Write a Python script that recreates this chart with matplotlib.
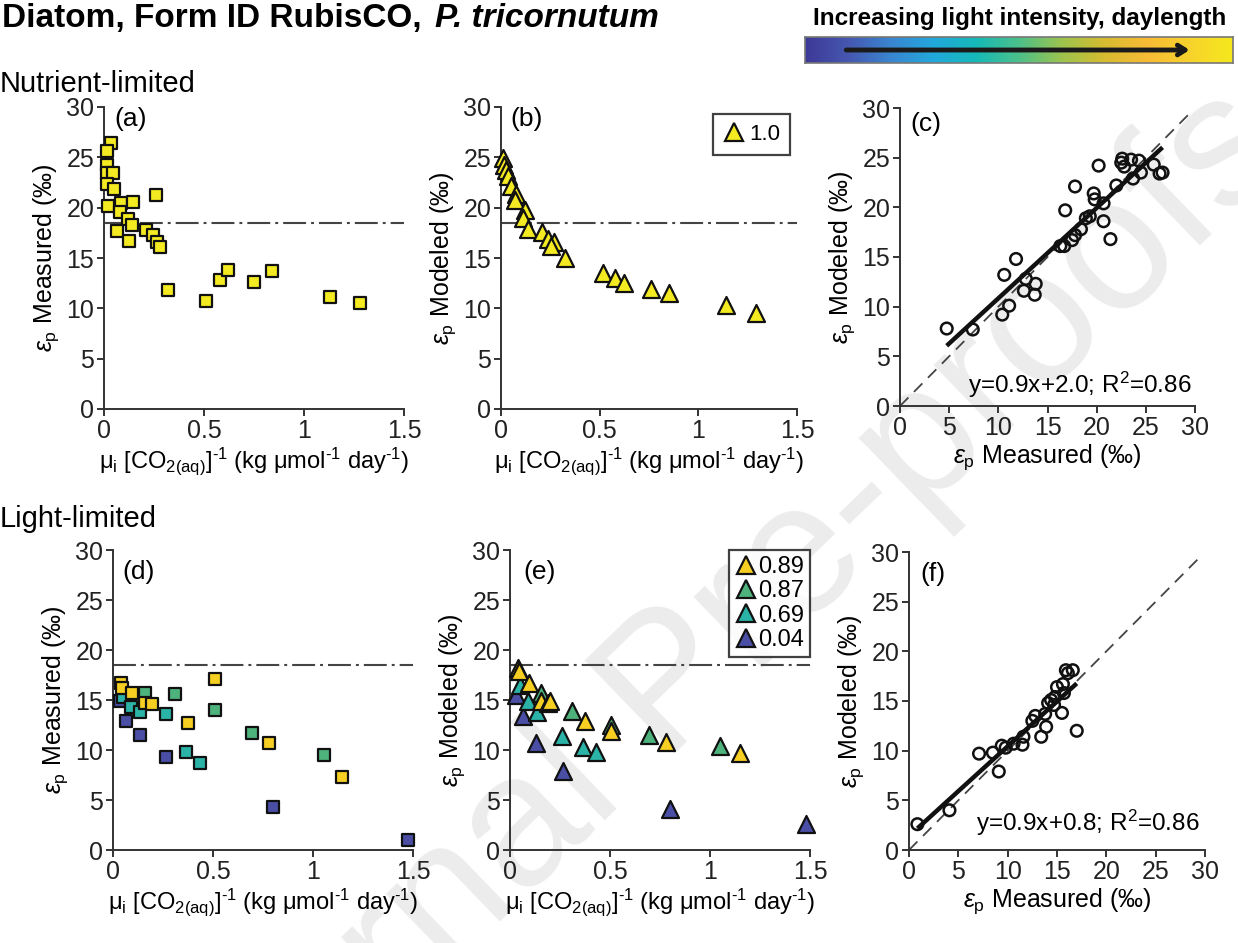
import numpy as np
import matplotlib
matplotlib.use('Agg')
from matplotlib import pyplot as plt
from matplotlib.colors import LinearSegmentedColormap
from matplotlib.lines import Line2D

plt.rcParams['font.family'] = ['Liberation Sans', 'DejaVu Sans']
plt.rcParams['mathtext.fontset'] = 'custom'
plt.rcParams['mathtext.rm'] = 'Liberation Sans'
plt.rcParams['mathtext.it'] = 'Liberation Sans:italic'
plt.rcParams['mathtext.bf'] = 'Liberation Sans:bold'

# ---- data ----
# (a) nutrient-limited, measured
a_x = [0.033, 0.017, 0.013, 0.013, 0.043, 0.013, 0.05, 0.022, 0.085, 0.143, 0.26,
       0.08, 0.12, 0.138, 0.063, 0.127, 0.21, 0.243, 0.263, 0.28, 0.318, 0.51,
       0.58, 0.62, 0.75, 0.84, 1.13, 1.28]
a_y = [26.4, 25.6, 24.2, 23.4, 23.4, 22.4, 21.9, 20.2, 20.5, 20.6, 21.3,
       19.6, 18.9, 18.3, 17.7, 16.7, 17.8, 17.3, 16.6, 16.1, 11.8, 10.7,
       12.8, 13.8, 12.6, 13.7, 11.1, 10.5]

# (b) nutrient-limited, modeled
b_x = [0.009, 0.015, 0.025, 0.037, 0.049, 0.076, 0.071, 0.12, 0.113, 0.138, 0.206,
       0.24, 0.269, 0.253, 0.324, 0.515, 0.578, 0.625, 0.76, 0.853, 1.14, 1.29]
b_y = [24.9, 24.2, 23.7, 23.1, 22.2, 21.4, 20.8, 19.8, 19.0, 17.9, 17.6,
       16.9, 16.6, 16.2, 15.0, 13.5, 13.0, 12.5, 11.9, 11.5, 10.3, 9.5]

# (c) modeled vs measured, nutrient-limited
c_meas = [4.75, 7.4, 10.4, 11.1, 10.6, 11.8, 12.8, 12.6, 13.8, 13.7, 16.8, 16.3,
          16.7, 17.5, 17.8, 18.4, 17.8, 18.9, 19.3, 19.7, 19.8, 20.2, 20.7, 20.7,
          21.4, 22.0, 22.5, 22.6, 22.8, 23.5, 23.7, 24.3, 24.5, 25.8, 26.4, 26.7]
c_mod = [7.8, 7.7, 9.2, 10.1, 13.2, 14.8, 12.8, 11.6, 12.3, 11.2, 19.7, 16.1,
         16.1, 16.7, 17.2, 17.8, 22.1, 18.9, 19.1, 21.4, 20.8, 24.2, 18.6, 20.4,
         16.8, 22.2, 24.5, 24.9, 24.1, 24.8, 22.9, 24.7, 23.5, 24.3, 23.4, 23.5]

# light-limited series (light fraction)
light_labels = ['0.89', '0.87', '0.69', '0.04']
light_colors = ['#f7cf22', '#4db27c', '#2bb3a8', '#4a4fa5']

d_x = [[0.042, 0.045, 0.097, 0.158, 0.195, 0.375, 0.508, 0.78, 1.147],
       [0.158, 0.308, 0.508, 0.697, 1.055],
       [0.05, 0.092, 0.133, 0.263, 0.367, 0.433],
       [0.033, 0.067, 0.133, 0.263, 0.8, 1.475]]
d_y = [[16.7, 16.2, 15.7, 14.7, 14.6, 12.7, 17.1, 10.7, 7.3],
       [15.7, 15.6, 14.0, 11.7, 9.5],
       [15.3, 14.3, 13.8, 13.6, 9.8, 8.7],
       [14.9, 12.9, 11.5, 9.3, 4.3, 1.0]]

e_x = [[0.038, 0.045, 0.097, 0.155, 0.192, 0.2, 0.376, 0.506, 0.782, 1.149],
       [0.155, 0.309, 0.506, 0.693, 1.052],
       [0.05, 0.089, 0.134, 0.259, 0.367, 0.431],
       [0.03, 0.063, 0.13, 0.264, 0.798, 1.478]]
e_y = [[18.2, 17.9, 16.7, 14.9, 14.7, 14.9, 12.9, 11.9, 10.8, 9.7],
       [15.7, 13.9, 12.5, 11.5, 10.4],
       [16.5, 14.9, 13.8, 11.4, 10.3, 9.8],
       [15.5, 13.4, 10.7, 7.9, 4.1, 2.6]]

# (f) modeled vs measured, light-limited
f_meas = [0.85, 4.1, 7.1, 8.5, 9.1, 9.4, 9.8, 10.6, 11.5, 11.6, 12.5, 12.8, 13.4,
          13.9, 13.8, 14.1, 14.4, 14.8, 14.7, 15.0, 15.5, 15.6, 15.7, 15.9, 16.1,
          16.6, 17.0]
f_mod = [2.6, 4.0, 9.7, 9.8, 7.9, 10.5, 10.3, 10.7, 10.6, 11.4, 13.0, 13.5, 11.4,
         12.4, 13.7, 14.8, 15.1, 15.4, 14.6, 16.4, 13.8, 16.7, 15.8, 18.1, 17.8,
         18.1, 12.0]

limit_line = 18.5
nutrient_color = '#f4ea22'
parula_like = ['#3d3a97', '#4657b0', '#3a86d0', '#22a8dc', '#16b9b8', '#4cc08a',
               '#9cc34e', '#d6bc30', '#f7bb36', '#f8d22c', '#f4e81d']

W, H = 1238, 943
SPINE = '#333333'
DASHDOT = (0, (11, 2.4, 1.4, 2.4))


def px_axes(fig, left, bottom, width, height):
    return fig.add_axes([left / W, (H - bottom) / H, width / W, height / H])


def style_axes(ax, xmax, xticks, xticklabels):
    for s in ['top', 'right']:
        ax.spines[s].set_visible(False)
    for s in ['left', 'bottom']:
        ax.spines[s].set_linewidth(1.4)
        ax.spines[s].set_color(SPINE)
    ax.set_facecolor('none')
    ax.set_xlim(0, xmax)
    ax.set_ylim(0, 30)
    ax.set_xticks(xticks)
    ax.set_xticklabels(xticklabels)
    ax.set_yticks(range(0, 31, 5))
    ax.tick_params(direction='out', length=5, width=1.4, color=SPINE,
                   labelsize=18, pad=2, labelcolor='#222222')


def panel_label(ax, text, x, y):
    ax.text(x, y, text, transform=ax.transAxes, fontsize=19, va='top', ha='left')


xlab_mu = (r'μ$_\mathrm{i}$ [CO$_{2(\mathrm{aq})}$]$^{\text{-1}}$ '
           r'(kg μmol$^{\text{-1}}$ day$^{\text{-1}}$)')
ylab_meas = r'$\varepsilon_\mathrm{p}$ Measured (‰)'
ylab_mod = r'$\varepsilon_\mathrm{p}$ Modeled (‰)'
mu_ticks = [0, 0.5, 1, 1.5]
mu_labels = ['0', '0.5', '1', '1.5']
eps_ticks = list(range(0, 31, 5))
eps_labels = [str(t) for t in eps_ticks]

fig = plt.figure(figsize=(W / 100, H / 100), dpi=100)

# watermark behind everything
fig.text(1260 / W, 1 - 120 / H, 'Journal Pre-proofs', fontsize=135, color='#ececec',
         rotation=44, rotation_mode='anchor', ha='right', va='center', zorder=-10)

ax_a = px_axes(fig, 104, 409, 300, 302)
ax_b = px_axes(fig, 501, 409, 296, 302)
ax_c = px_axes(fig, 900, 406, 295, 298)
ax_d = px_axes(fig, 113, 850, 300, 300)
ax_e = px_axes(fig, 510, 850, 300, 300)
ax_f = px_axes(fig, 909, 850, 296, 298)

# (a)
style_axes(ax_a, 1.5, mu_ticks, mu_labels)
ax_a.axhline(limit_line, color='#444444', lw=1.5, ls=DASHDOT, zorder=1)
ax_a.scatter(a_x, a_y, marker='s', s=80, c=nutrient_color, edgecolors='#111111',
             linewidths=1.6, zorder=3, clip_on=False)
ax_a.set_xlabel(xlab_mu, fontsize=17, labelpad=2)
ax_a.set_ylabel(ylab_meas, fontsize=18, labelpad=4)
panel_label(ax_a, '(a)', 0.035, 1.0)

# (b)
style_axes(ax_b, 1.5, mu_ticks, mu_labels)
ax_b.axhline(limit_line, color='#444444', lw=1.5, ls=DASHDOT, zorder=1)
ax_b.scatter(b_x, b_y, marker='^', s=150, c=nutrient_color, edgecolors='#111111',
             linewidths=1.6, zorder=3, clip_on=False)
ax_b.set_xlabel(xlab_mu, fontsize=17, labelpad=2)
ax_b.set_ylabel(ylab_mod, fontsize=18, labelpad=4)
panel_label(ax_b, '(b)', 0.03, 1.0)
hb = [Line2D([], [], ls='none', marker='^', markersize=13, markerfacecolor=nutrient_color,
             markeredgecolor='#111111', markeredgewidth=1.6)]
lg = ax_b.legend(hb, ['1.0'], loc='upper right', fontsize=16, frameon=True, fancybox=False,
                 handletextpad=0.2, handlelength=1.0, borderpad=0.45, borderaxespad=0.3)
lg.get_frame().set_edgecolor('#111111')
lg.get_frame().set_linewidth(1.6)

# (c)
style_axes(ax_c, 30, eps_ticks, eps_labels)
ax_c.plot([0, 29.4], [0, 29.4], color='#444444', lw=1.3, ls=(0, (6.6, 4.4)), zorder=1)
ax_c.scatter(c_meas, c_mod, marker='o', s=70, facecolors='none', edgecolors='#111111',
             linewidths=1.8, zorder=3)
k, b0 = np.polyfit(c_meas, c_mod, 1)
xf = np.array([min(c_meas), max(c_meas)])
ax_c.plot(xf, k * xf + b0, color='#111111', lw=3.2, zorder=2, solid_capstyle='butt')
ax_c.set_xlabel(ylab_meas, fontsize=18, labelpad=2)
ax_c.set_ylabel(ylab_mod, fontsize=18, labelpad=4)
panel_label(ax_c, '(c)', 0.034, 0.985)
ax_c.text(0.99, 0.02, r'y=0.9x+2.0; R$^2$=0.86', transform=ax_c.transAxes,
          fontsize=17.5, ha='right', va='bottom')

# (d)
style_axes(ax_d, 1.5, mu_ticks, mu_labels)
ax_d.axhline(limit_line, color='#444444', lw=1.5, ls=DASHDOT, zorder=1)
for xs, ys, col in zip(d_x[::-1], d_y[::-1], light_colors[::-1]):
    ax_d.scatter(xs, ys, marker='s', s=80, c=col, edgecolors='#111111',
                 linewidths=1.6, zorder=3, clip_on=False)
ax_d.set_xlabel(xlab_mu, fontsize=17, labelpad=2)
ax_d.set_ylabel(ylab_meas, fontsize=18, labelpad=4)
panel_label(ax_d, '(d)', 0.03, 0.967)

# (e)
style_axes(ax_e, 1.5, mu_ticks, mu_labels)
ax_e.axhline(limit_line, color='#444444', lw=1.5, ls=DASHDOT, zorder=1)
for xs, ys, col in zip(e_x[::-1], e_y[::-1], light_colors[::-1]):
    ax_e.scatter(xs, ys, marker='^', s=150, c=col, edgecolors='#111111',
                 linewidths=1.6, zorder=3, clip_on=False)
ax_e.set_xlabel(xlab_mu, fontsize=17, labelpad=2)
ax_e.set_ylabel(ylab_mod, fontsize=18, labelpad=4)
panel_label(ax_e, '(e)', 0.043, 0.967)
he = [Line2D([], [], ls='none', marker='^', markersize=13, markerfacecolor=c,
             markeredgecolor='#111111', markeredgewidth=1.6) for c in light_colors]
lg = ax_e.legend(he, light_labels, loc='upper right', fontsize=17, frameon=True,
                 fancybox=False, handletextpad=0.0, handlelength=1.0, borderpad=0.25,
                 borderaxespad=0.0, labelspacing=0.1)
lg.get_frame().set_edgecolor('#111111')
lg.get_frame().set_linewidth(1.6)

# (f)
style_axes(ax_f, 30, eps_ticks, eps_labels)
ax_f.plot([0, 29.4], [0, 29.4], color='#444444', lw=1.3, ls=(0, (6.6, 4.4)), zorder=1)
ax_f.scatter(f_meas, f_mod, marker='o', s=70, facecolors='none', edgecolors='#111111',
             linewidths=1.8, zorder=3)
k, b0 = np.polyfit(f_meas, f_mod, 1)
xf = np.array([min(f_meas), max(f_meas)])
ax_f.plot(xf, k * xf + b0, color='#111111', lw=3.2, zorder=2, solid_capstyle='butt')
ax_f.set_xlabel(ylab_meas, fontsize=18, labelpad=2)
ax_f.set_ylabel(ylab_mod, fontsize=18, labelpad=4)
panel_label(ax_f, '(f)', 0.037, 0.967)
ax_f.text(0.983, 0.04, r'y=0.9x+0.8; R$^2$=0.86', transform=ax_f.transAxes,
          fontsize=17.5, ha='right', va='bottom')

# headings
title_a = fig.text(2 / W, 1 - 27 / H, 'Diatom, Form ID RubisCO, ', fontsize=24,
                   fontweight='bold', ha='left', va='baseline')
renderer = fig.canvas.get_renderer()
x_end = title_a.get_window_extent(renderer).x1
fig.text((x_end + 4) / W, 1 - 27 / H, 'P. tricornutum', fontsize=24, fontweight='bold',
         fontstyle='italic', ha='left', va='baseline')
fig.text(0, 1 - 92 / H, 'Nutrient-limited', fontsize=21, ha='left', va='baseline')
fig.text(0, 1 - 527 / H, 'Light-limited', fontsize=21, ha='left', va='baseline')

# light gradient bar
ax_cb = px_axes(fig, 805, 63, 428, 26)
cmap = LinearSegmentedColormap.from_list('light', parula_like)
ax_cb.imshow(np.linspace(0, 1, 256)[None, :], cmap=cmap, aspect='auto', extent=[0, 1, 0, 1])
ax_cb.set_xticks([])
ax_cb.set_yticks([])
for s in ax_cb.spines.values():
    s.set_color('#777777')
    s.set_linewidth(1.2)
ax_cb.annotate('', xy=(0.905, 0.5), xytext=(0.09, 0.5), xycoords='axes fraction',
               arrowprops=dict(arrowstyle='->, head_length=0.55, head_width=0.35',
                               lw=3.5, color='#1a1a1a'))
fig.text(1020 / W, 1 - 19 / H, 'Increasing light intensity, daylength', fontsize=17.5,
         fontweight='bold', ha='center', va='center')

fig.savefig('out.png', dpi=100)
